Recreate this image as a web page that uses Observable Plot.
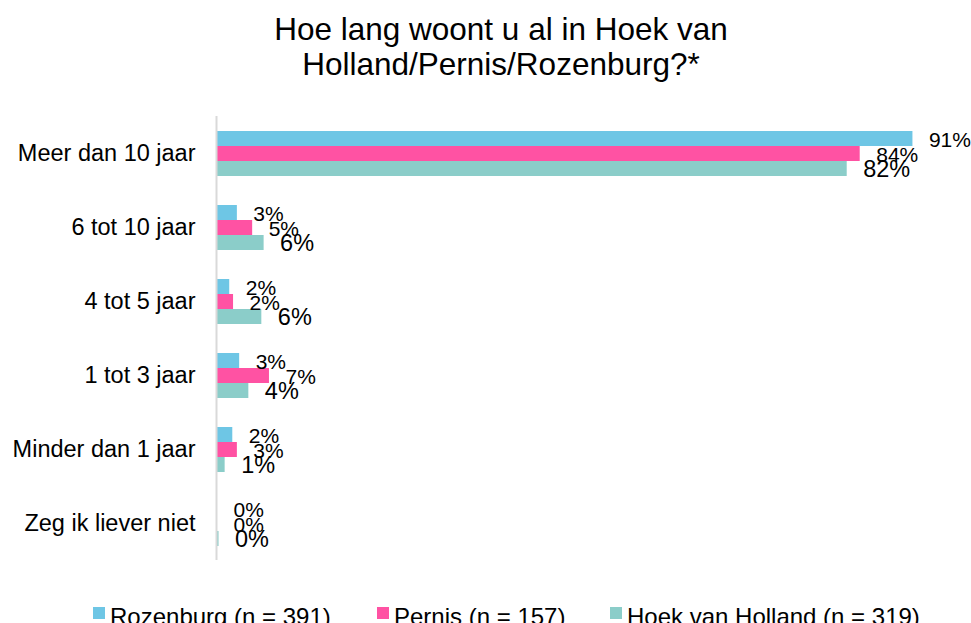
<!DOCTYPE html>
<html>
<head>
<meta charset="utf-8">
<script src="https://cdn.jsdelivr.net/npm/d3@7"></script>
<script src="https://cdn.jsdelivr.net/npm/@observablehq/plot@0.6"></script>
<style>
  html, body { margin: 0; padding: 0; background: #fff; overflow: hidden; }
  body { width: 971px; height: 623px; position: relative; font-family: "Liberation Sans", Arial, sans-serif; color: #000; }
  #title { position: absolute; left: 0; top: 12px; width: 1002px; text-align: center; font-size: 31.5px; line-height: 35px; }
  #chart { position: absolute; left: 0; top: 95px; }
  .leg-sq { position: absolute; width: 12px; height: 12px; top: 607px; }
  .leg-tx { position: absolute; top: 605px; font-size: 24px; line-height: 24px; white-space: nowrap; }
</style>
</head>
<body>
<div id="title">Hoe lang woont u al in Hoek van<br>Holland/Pernis/Rozenburg?*</div>
<div id="chart"></div>
<div id="legend"></div>
<script>
const categories = ["Meer dan 10 jaar", "6 tot 10 jaar", "4 tot 5 jaar", "1 tot 3 jaar", "Minder dan 1 jaar", "Zeg ik liever niet"];
const seriesNames = ["Rozenburg (n = 391)", "Pernis (n = 157)", "Hoek van Holland (n = 319)"];
const rozenburg = [91.0, 2.6, 1.6, 2.9, 2.0, 0];
const pernis = [84.1, 4.6, 2.1, 6.8, 2.6, 0];
const hoekVanHolland = [82.4, 6.1, 5.8, 4.1, 1.0, 0.2];
const colors = ["#6EC6E5", "#FF52A3", "#8BCDC9"];

const seriesValues = [rozenburg, pernis, hoekVanHolland];
const data = [];
categories.forEach((c, i) => {
  seriesNames.forEach((s, j) => {
    data.push({category: c, series: s, value: seriesValues[j][i]});
  });
});

const chart = Plot.plot({
  width: 971,
  height: 475,
  marginLeft: 217,
  marginRight: 28,
  marginTop: 21,
  marginBottom: 10,
  style: {fontFamily: "'Liberation Sans', Arial, sans-serif", fontSize: "23.5px", color: "#000", background: "transparent"},
  x: {domain: [0, 95], axis: null},
  y: {domain: seriesNames, axis: null, paddingInner: 0, paddingOuter: 0.913},
  fy: {domain: categories, padding: 0, axis: "left", tickSize: 0, tickPadding: 22, label: null},
  color: {domain: seriesNames, range: colors},
  marks: [
    Plot.barX(data, {x: "value", y: "series", fy: "category", fill: "series"}),
    Plot.ruleX([0], {stroke: "#d9d9d9", strokeWidth: 2, dx: -1}),
    Plot.text(data.filter(d => d.series !== seriesNames[2]), {
      x: "value", y: "series", fy: "category",
      text: d => Math.round(d.value) + "%",
      textAnchor: "start", dx: 16, dy: 1.5, fontSize: 21, fill: "#000"
    }),
    Plot.text(data.filter(d => d.series === seriesNames[2]), {
      x: "value", y: "series", fy: "category",
      text: d => Math.round(d.value) + "%",
      textAnchor: "start", dx: 16, dy: 0, fontSize: 23.5, fill: "#000"
    })
  ]
});
document.getElementById("chart").appendChild(chart);

const legendLefts = [93, 377, 610];
const legend = document.getElementById("legend");
seriesNames.forEach((s, j) => {
  const sq = document.createElement("div");
  sq.className = "leg-sq";
  sq.style.left = legendLefts[j] + "px";
  sq.style.background = colors[j];
  legend.appendChild(sq);
  const tx = document.createElement("div");
  tx.className = "leg-tx";
  tx.style.left = (legendLefts[j] + 17) + "px";
  tx.textContent = s;
  legend.appendChild(tx);
});
</script>
</body>
</html>
